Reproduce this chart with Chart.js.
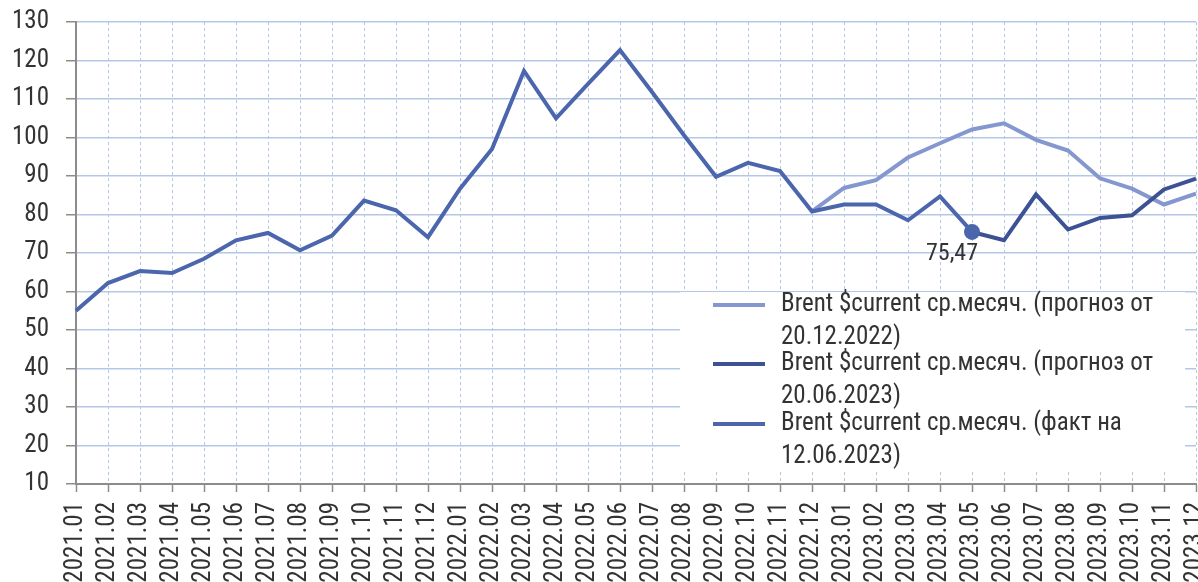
<!DOCTYPE html>
<html><head><meta charset="utf-8">
<script src="https://cdn.jsdelivr.net/npm/chart.js@4.4.0/dist/chart.umd.min.js"></script>
<style>html,body{margin:0;padding:0;background:#fff;overflow:hidden}#wrap{width:1198px;height:582px;position:relative}</style>
</head><body><div id="wrap"><canvas id="c" width="1198" height="582"></canvas></div>
<script>
const categories = ['2021.01','2021.02','2021.03','2021.04','2021.05','2021.06','2021.07','2021.08','2021.09','2021.10','2021.11','2021.12',
  '2022.01','2022.02','2022.03','2022.04','2022.05','2022.06','2022.07','2022.08','2022.09','2022.10','2022.11','2022.12',
  '2023.01','2023.02','2023.03','2023.04','2023.05','2023.06','2023.07','2023.08','2023.09','2023.10','2023.11','2023.12'];
const factValues = [55.0, 62.2, 65.3, 64.8, 68.5, 73.3, 75.2, 70.7, 74.5, 83.6, 81.1, 74.1,
  86.7, 97.0, 117.3, 105.0, 113.9, 122.7, 111.8, 100.6, 89.8, 93.4, 91.3, 80.8,
  82.6, 82.6, 78.5, 84.7, 75.47];
const forecastDec2022 = [null,null,null,null,null,null,null,null,null,null,null,null,
  null,null,null,null,null,null,null,null,null,null,null,80.8,
  86.9, 88.9, 94.8, 98.5, 102.1, 103.7, 99.4, 96.6, 89.4, 86.7, 82.6, 85.4];
const forecastJun2023 = [null,null,null,null,null,null,null,null,null,null,null,null,
  null,null,null,null,null,null,null,null,null,null,null,null,
  null,null,null,null,75.47, 73.3, 85.2, 76.1, 79.1, 79.8, 86.5, 89.3];
const yTicks = [10,20,30,40,50,60,70,80,90,100,110,120,130];
const seriesNames = [
  ['Brent $current ср.месяч. (прогноз от', '20.12.2022)'],
  ['Brent $current ср.месяч. (прогноз от', '20.06.2023)'],
  ['Brent $current ср.месяч. (факт на', '12.06.2023)']
];
const seriesColors = ['#8497cf', '#3c5294', '#4b66ad'];
const markedIndex = 28;
const markedText = '75,47';

const FONT = "'Liberation Sans Narrow', 'Roboto Condensed', 'Arial Narrow', Roboto, sans-serif";
const TXT = '#333333';

const legendPlugin = {
  id: 'customLegend',
  beforeDatasetsDraw(chart) {
    const ctx = chart.ctx;
    ctx.save();
    ctx.fillStyle = '#ffffff';
    ctx.fillRect(680, 292, 505, 180);
    ctx.font = '25px ' + FONT;
    ctx.fillStyle = TXT;
    ctx.textBaseline = 'middle';
    ctx.textAlign = 'left';
    const tops = [305, 364, 424];
    [0, 1, 2].forEach((k, i) => {
      const y = tops[i];
      ctx.strokeStyle = seriesColors[k];
      ctx.lineWidth = 4;
      ctx.beginPath(); ctx.moveTo(713, y); ctx.lineTo(765, y); ctx.stroke();
      seriesNames[k].forEach((line, j) => {
        ctx.fillText(line, 781, y + j * 33);
      });
    });
    ctx.restore();
  },
  afterDatasetsDraw(chart) {
    const ctx = chart.ctx;
    const xs = chart.scales.x, ys = chart.scales.y;
    const px = xs.getPixelForValue(markedIndex);
    const py = ys.getPixelForValue(factValues[markedIndex]);
    ctx.save();
    ctx.font = '24px ' + FONT;
    ctx.fillStyle = TXT;
    ctx.textAlign = 'center';
    ctx.textBaseline = 'middle';
    ctx.fillText(markedText, px - 20, py + 22);
    ctx.restore();
  }
};

new Chart(document.getElementById('c'), {
  type: 'line',
  data: {
    labels: categories,
    datasets: [
      { label: seriesNames[0].join(' '), data: forecastDec2022, borderColor: seriesColors[0], borderWidth: 4, pointRadius: 0, tension: 0, order: 3 },
      { label: seriesNames[1].join(' '), data: forecastJun2023, borderColor: seriesColors[1], borderWidth: 4, pointRadius: 0, tension: 0, order: 2 },
      { label: seriesNames[2].join(' '), data: factValues, borderColor: seriesColors[2], borderWidth: 4, tension: 0, order: 1,
        pointRadius: factValues.map((v, i) => i === markedIndex ? 6 : 0),
        pointBackgroundColor: seriesColors[2], pointBorderColor: seriesColors[2] }
    ]
  },
  options: {
    responsive: false,
    animation: false,
    devicePixelRatio: 1,
    layout: { autoPadding: false, padding: { top: 22, right: 2, left: 0, bottom: 0 } },
    plugins: { legend: { display: false }, tooltip: { enabled: false } },
    scales: {
      x: {
        grid: { color: '#b4c7e7', lineWidth: 1, tickColor: '#8c8c8c', tickLength: 8, tickWidth: 1.5 },
        border: { display: true, color: '#8c8c8c', width: 2, dash: [3, 3] },
        ticks: { autoSkip: false, maxRotation: 90, minRotation: 90, padding: 10, color: TXT, font: { family: FONT, size: 25 } },
        afterFit(s) { s.height = 98; s.paddingLeft = 0; s.paddingRight = 0; }
      },
      y: {
        min: 10, max: 130,
        afterBuildTicks(s) { s.ticks = yTicks.map(v => ({ value: v })); },
        grid: { color: '#b4c7e7', lineWidth: 1.5, tickColor: '#8c8c8c', tickLength: 10 },
        border: { display: true, color: '#8c8c8c', width: 2 },
        ticks: { padding: 17, color: TXT, font: { family: FONT, size: 25 } },
        afterFit(s) { s.width = 76; s.paddingTop = 0; s.paddingBottom = 0; }
      }
    }
  },
  plugins: [legendPlugin]
});
</script></body></html>
